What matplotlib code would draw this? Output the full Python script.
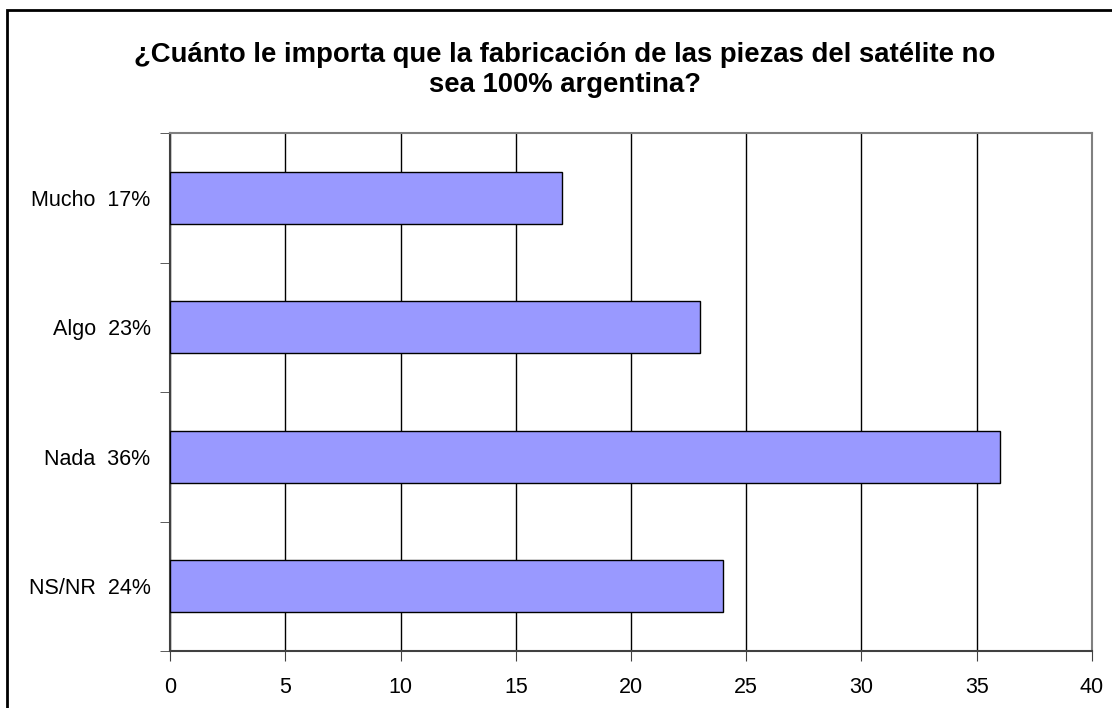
import matplotlib.pyplot as plt
import numpy as np

categories = ["Mucho  17%", "Algo  23%", "Nada  36%", "NS/NR  24%"]
values = [17, 23, 36, 24]
xticks = [0, 5, 10, 15, 20, 25, 30, 35, 40]
title = "¿Cuánto le importa que la fabricación de las piezas del satélite no\nsea 100% argentina?"

plt.rcParams['font.family'] = ['Liberation Sans', 'DejaVu Sans']

fig = plt.figure(figsize=(11.12, 7.08), dpi=100)
ax = fig.add_axes([170 / 1112, 57 / 708, 922 / 1112, 518 / 708])

# frame around the whole chart
fig.patches.append(plt.Rectangle((7 / 1112, -0.01), 1.2, (698 + 0.01 * 708) / 708,
                                 transform=fig.transFigure, fill=False,
                                 edgecolor='black', linewidth=2))

pos = np.arange(len(categories))
ax.barh(pos, values, height=0.4, color='#9999FF', edgecolor='black', linewidth=1, zorder=3)
ax.set_ylim(len(categories) - 0.5, -0.5)
ax.set_xlim(0, 40)
ax.set_xticks(xticks)
ax.set_yticks(pos)
ax.set_yticklabels(categories)
ax.set_yticks(np.arange(len(categories) + 1) - 0.5, minor=True)
ax.tick_params(axis='y', which='major', length=0, pad=14, labelsize=15.5)
ax.tick_params(axis='y', which='minor', length=7, color='#404040')
ax.tick_params(axis='x', length=7, pad=12, labelsize=15.5, color='#404040')
ax.grid(axis='x', color='black', linewidth=1, zorder=0)

for side in ['left', 'bottom']:
    ax.spines[side].set_color('#404040')
    ax.spines[side].set_linewidth(1.5)
for side in ['top', 'right']:
    ax.spines[side].set_color('#808080')
    ax.spines[side].set_linewidth(1.5)

fig.text(565 / 1112, 1 - 70 / 708, title, ha='center', va='center',
         fontsize=19.8, fontweight='bold', linespacing=1.2)

fig.savefig('out.png', dpi=100)
